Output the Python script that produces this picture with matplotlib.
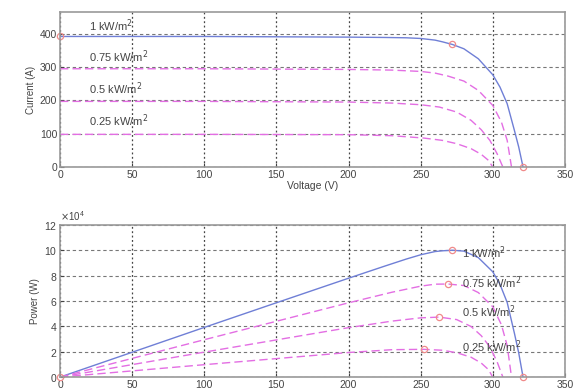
import matplotlib.pyplot as plt
from matplotlib.ticker import MultipleLocator

plt.rcParams['font.family'] = ['Liberation Sans', 'DejaVu Sans']

# irradiance labels
levels = ['1 kW/m$^2$', '0.75 kW/m$^2$', '0.5 kW/m$^2$', '0.25 kW/m$^2$']

# I-V / P-V curves
v_100 = [0, 50, 100, 150, 200, 225, 240, 250, 260, 265, 272, 280, 290, 300, 305, 310, 315, 318, 321]
i_100 = [392, 392, 392, 391, 390, 389, 388, 386, 381, 376, 368, 355, 325, 277, 240, 190, 110, 60, 0]
p_100 = [0, 19600, 39200, 58650, 78000, 87525, 93120, 96500, 99060, 99640, 100096, 99400,
         94250, 83100, 73200, 58900, 34650, 19080, 0]

v_75 = [0, 100, 200, 230, 250, 260, 269, 280, 290, 300, 306, 310, 313]
i_75 = [295, 295, 293, 291, 287, 282, 273, 258, 230, 185, 135, 80, 0]
p_75 = [0, 29500, 58600, 66930, 71750, 73320, 73437, 72240, 66700, 55500, 41310, 24800, 0]

v_50 = [0, 100, 200, 230, 250, 263, 275, 285, 292, 298, 303, 307]
i_50 = [197, 197, 195, 192, 187, 180, 165, 140, 112, 80, 40, 0]
p_50 = [0, 19700, 39000, 44160, 46750, 47340, 45375, 39900, 32704, 23840, 12120, 0]

v_25 = [0, 100, 200, 230, 252, 265, 275, 285, 292, 297, 300]
i_25 = [98, 98, 97, 94, 87, 80, 70, 55, 38, 20, 0]
p_25 = [0, 9800, 19400, 21620, 21924, 21200, 19250, 15675, 11096, 5940, 0]

# marked points
iv_mark_v = [0, 272, 321]
iv_mark_i = [392, 368, 0]
pv_mark_v = [0, 321, 272, 269, 263, 252]
pv_mark_p = [0, 0, 100096, 73437, 47340, 21924]

# label anchors
iv_label_y = [424, 331, 234, 138]
pv_label_y = [98000, 74500, 51500, 24000]

blue = '#6f7fd6'
pink = '#e36ee3'
mark = '#f08a8a'
txt_c = '#444444'

fig = plt.figure(figsize=(5.77, 3.92), dpi=100)
ax1 = fig.add_axes([0.104, 0.574, 0.875, 0.395])
ax2 = fig.add_axes([0.104, 0.038, 0.875, 0.388])

for ax in (ax1, ax2):
    ax.set_xlim(0, 350)
    ax.xaxis.set_major_locator(MultipleLocator(50))
    ax.grid(True, axis='y', color='#777777', linestyle=(0, (3, 2.5)), linewidth=0.8)
    ax.grid(True, axis='x', color='#444444', linestyle=(0, (1.5, 2)), linewidth=0.9)
    ax.tick_params(direction='in', labelsize=7.5, colors=txt_c, length=3, pad=2)
    for s in ax.spines.values():
        s.set_color('#999999')
        s.set_linewidth(1.2)

# current vs voltage
ax1.plot(v_100, i_100, color=blue, lw=1.0)
ax1.plot(v_75, i_75, color=pink, lw=1.0, ls=(0, (6, 3)))
ax1.plot(v_50, i_50, color=pink, lw=1.0, ls=(0, (6, 3)))
ax1.plot(v_25, i_25, color=pink, lw=1.0, ls=(0, (6, 3)))
ax1.plot(iv_mark_v, iv_mark_i, 'o', mfc='none', mec=mark, ms=4.5, mew=0.9, clip_on=False)
for txt, y in zip(levels, iv_label_y):
    ax1.text(20, y, txt, fontsize=8, color=txt_c, va='center', ha='left')
ax1.set_ylim(0, 465)
ax1.yaxis.set_major_locator(MultipleLocator(100))
ax1.set_xlabel('Voltage (V)', fontsize=7.5, color=txt_c, labelpad=1)
ax1.set_ylabel('Current (A)', fontsize=7, color=txt_c, labelpad=3)

# power vs voltage
ax2.plot(v_100, p_100, color=blue, lw=1.0)
ax2.plot(v_75, p_75, color=pink, lw=1.0, ls=(0, (6, 3)))
ax2.plot(v_50, p_50, color=pink, lw=1.0, ls=(0, (6, 3)))
ax2.plot(v_25, p_25, color=pink, lw=1.0, ls=(0, (6, 3)))
ax2.plot(pv_mark_v, pv_mark_p, 'o', mfc='none', mec=mark, ms=4.5, mew=0.9, clip_on=False)
for txt, y in zip(levels, pv_label_y):
    ax2.text(279, y, txt, fontsize=8, color=txt_c, va='center', ha='left')
ax2.set_ylim(0, 120000)
ax2.yaxis.set_major_locator(MultipleLocator(20000))
ax2.ticklabel_format(axis='y', style='sci', scilimits=(4, 4), useMathText=True)
ax2.yaxis.get_offset_text().set_fontsize(7)
ax2.yaxis.get_offset_text().set_color(txt_c)
ax2.set_ylabel('Power (W)', fontsize=7, color=txt_c, labelpad=3)

fig.savefig('out.png', dpi=100)
